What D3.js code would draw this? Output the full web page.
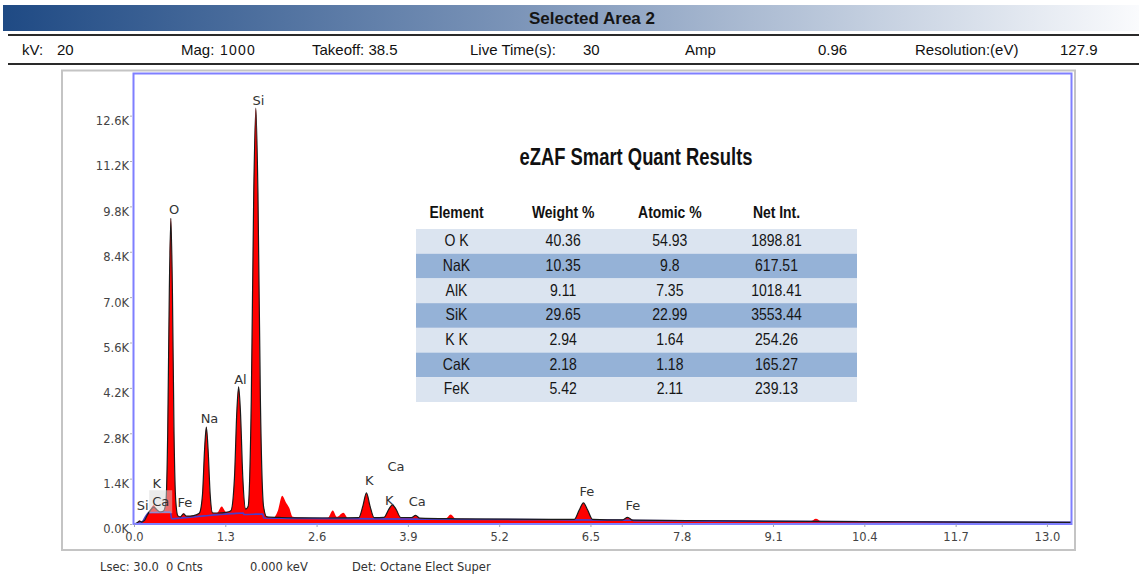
<!DOCTYPE html>
<html>
<head>
<meta charset="utf-8">
<script src="https://cdn.jsdelivr.net/npm/d3@7"></script>
<style>
  html, body { margin: 0; padding: 0; background: #ffffff; }
  svg { display: block; }
</style>
</head>
<body>
<svg id="chart" width="1139" height="578"></svg>
<script>
// ---- header / footer text ----
const headerTitle = "Selected Area 2";
const infoLabels = ["kV:", "20", "Mag:", "1000", "Takeoff: 38.5", "Live Time(s):", "30", "Amp", "0.96", "Resolution:(eV)", "127.9"];
const footerLabels = ["Lsec: 30.0", "0 Cnts", "0.000 keV", "Det: Octane Elect Super"];

// ---- axis ticks ----
const xTicks = [0.0, 1.3, 2.6, 3.9, 5.2, 6.5, 7.8, 9.1, 10.4, 11.7, 13.0];
const yTicks = [0, 1400, 2800, 4200, 5600, 7000, 8400, 9800, 11200, 12600];
const yTickLabels = ["0.0K", "1.4K", "2.8K", "4.2K", "5.6K", "7.0K", "8.4K", "9.8K", "11.2K", "12.6K"];

// ---- measured spectrum (keV, counts) ----
const specEnergy = [0.00, 0.04, 0.08, 0.11, 0.15, 0.19, 0.24, 0.28, 0.32, 0.37, 0.42,
  0.455, 0.48, 0.503, 0.525, 0.547, 0.57, 0.595, 0.625, 0.66, 0.705, 0.75, 0.85, 0.93,
  0.975, 1.005, 1.03, 1.055, 1.085, 1.12, 1.18, 1.25, 1.31, 1.38,
  1.43, 1.465, 1.49, 1.515, 1.55, 1.59, 1.625, 1.67, 1.705, 1.735, 1.765, 1.80, 1.845,
  1.89, 1.98, 2.05, 2.11, 2.16, 2.21, 2.26, 2.40, 2.60, 2.76, 2.83, 2.89, 2.98, 3.05,
  3.20, 3.26, 3.31, 3.36, 3.42, 3.56, 3.63, 3.68, 3.73, 3.80, 3.95, 4.01, 4.07,
  4.44, 4.51, 4.58, 5.20, 5.90, 6.27, 6.34, 6.40, 6.46, 6.53, 6.95, 7.03, 7.10,
  8.20, 9.64, 9.71, 9.78, 11.0, 13.35];
const specCounts = [0, 40, 110, 60, 120, 300, 480, 580, 470, 370, 400,
  700, 2800, 7200, 9430, 7200, 2800, 700, 260, 220, 330, 240, 260, 340,
  900, 2300, 2990, 2300, 900, 350, 340, 540, 370, 420,
  1400, 3500, 4230, 3500, 1400, 470, 560, 3800, 10200, 12830, 10200, 3800, 560,
  230, 190, 420, 870, 680, 500, 220, 190, 180, 190, 420, 220, 350, 180,
  200, 560, 960, 560, 200, 210, 460, 590, 460, 200, 200, 270, 180,
  170, 290, 160, 150, 140, 150, 430, 650, 430, 150, 125, 210, 125,
  105, 90, 160, 90, 70, 50];

// ---- fitted spectrum (keV, counts) ----
const fitEnergy = [0.00, 0.04, 0.08, 0.11, 0.15, 0.19, 0.24, 0.28, 0.32, 0.37, 0.42,
  0.455, 0.48, 0.503, 0.525, 0.547, 0.57, 0.595, 0.625, 0.66, 0.705, 0.75, 0.85, 0.93,
  0.975, 1.005, 1.03, 1.055, 1.085, 1.12, 1.20, 1.31, 1.38,
  1.43, 1.465, 1.49, 1.515, 1.55, 1.59, 1.625, 1.67, 1.705, 1.735, 1.765, 1.80, 1.845,
  1.89, 2.10, 2.40, 2.80, 3.20, 3.26, 3.31, 3.36, 3.42, 3.56, 3.63, 3.68, 3.73, 3.80,
  3.95, 4.01, 4.07, 4.60, 5.90, 6.27, 6.34, 6.40, 6.46, 6.53, 6.95, 7.03, 7.10,
  8.20, 11.0, 13.35];
const fitCounts = [0, 30, 90, 60, 110, 280, 440, 520, 450, 370, 400,
  700, 2800, 7200, 9430, 7200, 2800, 700, 250, 220, 310, 240, 260, 330,
  900, 2300, 2990, 2300, 900, 340, 340, 360, 410,
  1400, 3500, 4230, 3500, 1400, 460, 540, 3800, 10200, 12830, 10200, 3800, 540,
  220, 200, 190, 185, 195, 560, 960, 560, 195, 205, 460, 590, 460, 200,
  200, 265, 180, 160, 140, 145, 430, 650, 430, 145, 125, 205, 120,
  100, 70, 50];

// ---- background model (keV, counts) ----
const bkgEnergy = [0.00, 0.06, 0.12, 0.17, 0.21, 0.30, 0.40, 0.52, 0.535, 0.60, 0.80,
  1.00, 1.20, 1.40, 1.555, 1.565, 1.835, 1.845, 2.20, 3.00, 4.00, 5.00, 6.00, 7.10,
  7.12, 8.50, 10.5, 13.35];
const bkgCounts = [0, 20, 70, 250, 350, 355, 365, 370, 160, 170, 210,
  250, 290, 320, 340, 295, 310, 185, 175, 165, 150, 140, 130, 115,
  105, 90, 70, 50];

// ---- peak identification labels (centre energy, centre height in counts) ----
const peakLabels = ["Si", "O", "Al", "Na", "K", "Ca", "K", "Ca", "Fe", "Fe", "Si", "K", "Ca", "Fe"];
const peakLabelEnergy = [1.773, 0.57, 1.516, 1.075, 3.35, 3.73, 3.635, 4.034, 6.45, 7.105, 0.124, 0.323, 0.38, 0.726];
const peakLabelCounts = [13076, 9715, 4472, 3269, 1357, 1789, 740, 688, 1018, 586, 586, 1255, 688, 657];

// ---- quantification table ----
const tableTitle = "eZAF Smart Quant Results";
const tableColumns = ["Element", "Weight %", "Atomic %", "Net Int."];
const elements = ["O K", "NaK", "AlK", "SiK", "K K", "CaK", "FeK"];
const weightPct = ["40.36", "10.35", "9.11", "29.65", "2.94", "2.18", "5.42"];
const atomicPct = ["54.93", "9.8", "7.35", "22.99", "1.64", "1.18", "2.11"];
const netInt = ["1898.81", "617.51", "1018.41", "3553.44", "254.26", "165.27", "239.13"];

// ================= drawing =================
const svg = d3.select("#chart");
const sansFont = "'Liberation Sans', Arial, Helvetica, sans-serif";
const axisFont = "'DejaVu Sans', Verdana, sans-serif";

// squeeze text horizontally to a narrow face
function squeeze(sel, k) {
  sel.each(function () {
    const w = this.getComputedTextLength();
    d3.select(this).attr("textLength", w * k).attr("lengthAdjust", "spacingAndGlyphs");
  });
}

// header bar
const defs = svg.append("defs");
const grad = defs.append("linearGradient").attr("id", "hdrGrad")
  .attr("x1", "0%").attr("x2", "100%").attr("y1", "0%").attr("y2", "0%");
grad.append("stop").attr("offset", "0%").attr("stop-color", "#1f4a84");
grad.append("stop").attr("offset", "45%").attr("stop-color", "#7b94b8");
grad.append("stop").attr("offset", "100%").attr("stop-color", "#fafbfd");

svg.append("rect").attr("x", 3).attr("y", 5).attr("width", 1136).attr("height", 26)
  .attr("fill", "url(#hdrGrad)");
svg.append("text").attr("x", 592).attr("y", 18).attr("dy", "0.35em")
  .attr("text-anchor", "middle").attr("font-family", sansFont)
  .attr("font-weight", "bold").attr("font-size", 17).attr("fill", "#151515")
  .text(headerTitle);

svg.append("line").attr("x1", 8).attr("x2", 1139).attr("y1", 35).attr("y2", 35)
  .attr("stroke", "#2a2a2a").attr("stroke-width", 2);
svg.append("line").attr("x1", 8).attr("x2", 1139).attr("y1", 64).attr("y2", 64)
  .attr("stroke", "#2a2a2a").attr("stroke-width", 2);

// acquisition info row
const infoX = [22, 57, 181, 220, 312, 470, 583, 685, 818, 915, 1060];
svg.append("g").selectAll("text").data(infoLabels).join("text")
  .attr("x", (d, i) => infoX[i]).attr("y", 50).attr("dy", "0.35em")
  .attr("font-family", sansFont)
  .attr("font-size", (d, i) => i === 3 ? 14 : 15)
  .attr("letter-spacing", (d, i) => i === 3 ? 1.2 : 0)
  .attr("fill", "#111")
  .text(d => d);

// outer panel
svg.append("rect").attr("x", 62).attr("y", 70.5).attr("width", 1013).attr("height", 479.5)
  .attr("fill", "#ffffff").attr("stroke", "#c4c4c4").attr("stroke-width", 2);

// plot area
const plot = { left: 133.5, right: 1071.5, top: 73.5, bottom: 524 };
const x = d3.scaleLinear().domain([0, 13.35]).range([134, plot.right]);
const y = d3.scaleLinear().domain([0, 13900]).range([plot.bottom, plot.top]);

defs.append("clipPath").attr("id", "plotClip").append("rect")
  .attr("x", plot.left).attr("y", plot.top)
  .attr("width", plot.right - plot.left).attr("height", plot.bottom - plot.top);

const specData = specEnergy.map((e, i) => [e, specCounts[i]]);
const fitData = fitEnergy.map((e, i) => [e, fitCounts[i]]);
const bkgData = bkgEnergy.map((e, i) => [e, bkgCounts[i]]);

const area = d3.area().x(d => x(d[0])).y0(y(0)).y1(d => y(d[1])).curve(d3.curveMonotoneX);
const line = d3.line().x(d => x(d[0])).y(d => y(d[1])).curve(d3.curveMonotoneX);

const gSpec = svg.append("g").attr("clip-path", "url(#plotClip)");
gSpec.append("path").datum(specData).attr("d", area).attr("fill", "#ff0000");
gSpec.append("path").datum(bkgData).attr("d", line)
  .attr("fill", "none").attr("stroke", "#4b3cc9").attr("stroke-width", 1.6);
gSpec.append("path").datum(fitData).attr("d", line)
  .attr("fill", "none").attr("stroke", "#1a1a1a").attr("stroke-width", 1.2);

// plot frame
svg.append("rect").attr("x", plot.left).attr("y", plot.top)
  .attr("width", plot.right - plot.left).attr("height", plot.bottom - plot.top)
  .attr("fill", "none").attr("stroke", "#7f7fff").attr("stroke-width", 2);

// peak labels
const gLab = svg.append("g");
const labs = gLab.selectAll("text").data(peakLabels).join("text")
  .attr("x", (d, i) => x(peakLabelEnergy[i]))
  .attr("y", (d, i) => y(peakLabelCounts[i]))
  .attr("dy", "0.35em").attr("text-anchor", "middle")
  .attr("font-family", axisFont).attr("font-size", 13).attr("fill", "#333")
  .text(d => d);
// highlighted marker box behind the low-energy Ca label
const caNode = labs.nodes()[12];
const bb = caNode.getBBox();
gLab.insert("rect", "text")
  .attr("x", bb.x - 3).attr("y", bb.y - 4).attr("width", bb.width + 6).attr("height", bb.height + 8)
  .attr("fill", "#d8d8d8").attr("opacity", 0.5);

// axes
const gx = svg.append("g").attr("transform", `translate(0,${plot.bottom})`)
  .call(d3.axisBottom(x).tickValues(xTicks).tickFormat(d3.format(".1f")).tickSize(3).tickPadding(6));
gx.select(".domain").remove();
gx.selectAll(".tick line").attr("stroke", "#a0a0b8");
gx.selectAll(".tick text").attr("font-family", axisFont).attr("font-size", 11.5).attr("fill", "#444");

const gy = svg.append("g").attr("transform", `translate(132,0)`)
  .call(d3.axisLeft(y).tickValues(yTicks).tickFormat((d, i) => yTickLabels[i]).tickSize(2).tickPadding(1));
gy.select(".domain").remove();
gy.selectAll(".tick line").attr("stroke", "#b0b0b0");
gy.selectAll(".tick text").attr("dy", "0.78em")
  .attr("font-family", axisFont).attr("font-size", 11.5).attr("fill", "#444");

// quantification table
const tbl = { left: 416, right: 857, top: 229, bottom: 402 };
const rowBand = d3.scaleBand().domain(d3.range(elements.length)).range([tbl.top, tbl.bottom]);
const colX = d3.scalePoint().domain(tableColumns).range([456.5, 776.5]);
const gT = svg.append("g");

const ttl = gT.append("text").attr("x", 636).attr("y", 157).attr("dy", "0.35em")
  .attr("text-anchor", "middle").attr("font-family", sansFont).attr("font-weight", "bold")
  .attr("font-size", 23).attr("fill", "#111").text(tableTitle);
squeeze(ttl, 0.8);

const hdr = gT.selectAll("text.hdr").data(tableColumns).join("text").attr("class", "hdr")
  .attr("x", d => colX(d)).attr("y", 212).attr("dy", "0.35em")
  .attr("text-anchor", "middle").attr("font-family", sansFont).attr("font-weight", "bold")
  .attr("font-size", 17).attr("fill", "#111").text(d => d);
squeeze(hdr, 0.82);

gT.selectAll("rect.row").data(elements).join("rect").attr("class", "row")
  .attr("x", tbl.left).attr("width", tbl.right - tbl.left)
  .attr("y", (d, i) => rowBand(i)).attr("height", rowBand.bandwidth())
  .attr("fill", (d, i) => i % 2 === 0 ? "#dbe4f0" : "#95b2d7");

const cells = [];
elements.forEach((el, i) => {
  [el, weightPct[i], atomicPct[i], netInt[i]].forEach((v, j) => cells.push({ row: i, col: tableColumns[j], v }));
});
const cellText = gT.selectAll("text.cell").data(cells).join("text").attr("class", "cell")
  .attr("x", d => colX(d.col))
  .attr("y", d => rowBand(d.row) + rowBand.bandwidth() / 2 - 1).attr("dy", "0.35em")
  .attr("text-anchor", "middle").attr("font-family", sansFont)
  .attr("font-size", 16.5).attr("fill", "#151515").text(d => d.v);
squeeze(cellText, 0.85);

// footer status line
const footX = [100, 166, 250, 352];
svg.append("g").selectAll("text").data(footerLabels).join("text")
  .attr("x", (d, i) => footX[i]).attr("y", 567).attr("dy", "0.35em")
  .attr("font-family", axisFont).attr("font-size", 11.5).attr("fill", "#333")
  .text(d => d);
</script>
</body>
</html>
